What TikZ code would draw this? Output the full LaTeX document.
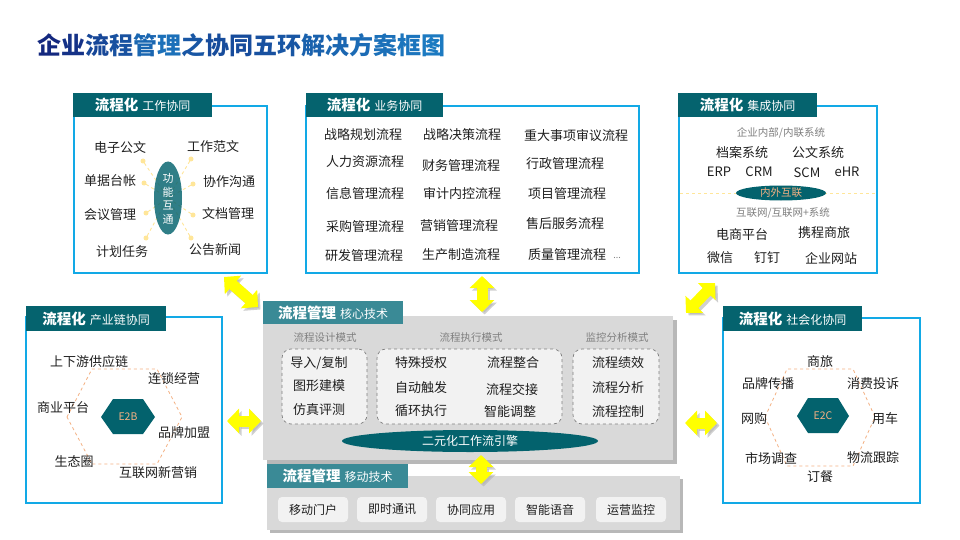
\documentclass[tikz,border=0pt]{standalone}
\usepackage{fontspec}
\setmainfont{Noto Sans CJK SC}
\usetikzlibrary{arrows.meta,shapes.geometric,calc}
\definecolor{hdrc}{HTML}{05636E}
\definecolor{hdrl}{HTML}{3A8A96}
\definecolor{ellc}{HTML}{03626D}
\definecolor{bordc}{HTML}{12A9E6}
\definecolor{grayc}{HTML}{D9D9D9}
\definecolor{lightc}{HTML}{F2F2F2}
\definecolor{dotc}{HTML}{FFE699}
\definecolor{hexc}{HTML}{F4B183}
\definecolor{labgray}{HTML}{7F7F7F}
\definecolor{txtc}{HTML}{1F1F1F}
\definecolor{tA}{HTML}{14287F}
\definecolor{tB}{HTML}{1E8FD2}
\definecolor{arrc}{HTML}{FFFF00}
\newcommand\myfs[1]{\fontsize{#1}{#1}\selectfont}
\newcommand\hb[1]{{\bfseries\myfs{14.5}#1}\hspace{4pt}}
\newcommand\hs[1]{{\myfs{12}#1}}
\newcommand\tc[2]{{\color{tB!#1!tA}#2}}
\tikzset{
  every node/.style={inner sep=0pt, outer sep=0pt},
  hdr/.style={fill=hdrc, text=white, minimum height=24pt, anchor=north west},
  hdrlt/.style={fill=hdrl, text=white, minimum height=24pt, anchor=north west},
  boxb/.style={draw=bordc, line width=1.1pt, fill=white},
  item/.style={font=\myfs{13}, text=txtc},
  sitem/.style={font=\myfs{10.5}, text=labgray},
  dot/.style={circle, fill=dotc, minimum size=5pt},
  dline/.style={draw=dotc, dashed, line width=0.9pt},
  hexd/.style={draw=hexc, dashed, line width=0.8pt},
  ell/.style={ellipse, fill=ellc},
  inbox/.style={draw=labgray, dashed, fill=lightc, rounded corners=9pt, line width=0.7pt},
  btn/.style={fill=lightc, rounded corners=4pt, minimum width=70pt, minimum height=25pt, font=\myfs{12}, text=txtc},
  yarr/.style={draw=arrc, line width=11pt, {Triangle[length=12pt,width=24pt]}-{Triangle[length=12pt,width=24pt]}},
  yshadow/.style={draw=black!30, opacity=0.6, line width=11pt, {Triangle[length=12pt,width=24pt]}-{Triangle[length=12pt,width=24pt]}}
}
\begin{document}
\begin{tikzpicture}[x=1pt,y=-1pt]
\useasboundingbox[fill=white] (0,0) rectangle (960,540);

% title
\node[anchor=west, font=\bfseries\myfs{24}] (title) at (37,45)
 {\tc{0}{企}\tc{10}{业}\tc{30}{流}\tc{40}{程}\tc{60}{管}\tc{70}{理}\tc{45}{之}\tc{35}{协}\tc{35}{同}\tc{40}{五}\tc{45}{环}\tc{55}{解}\tc{60}{决}\tc{65}{方}\tc{70}{案}\tc{75}{框}\tc{80}{图}};

% ===== top-left: 工作协同
\node[boxb, minimum width=193pt, minimum height=167pt] (wk) at (170.5,189.5) {};
\node[hdr, minimum width=139pt] (wkh) at (73,93) {\hb{流程化}\hs{工作协同}};
\coordinate (wkcc) at (168,198);
\node[dot] (d1) at (143,161) {};
\node[dot] (d2) at (144,183) {};
\node[dot] (d3) at (146,213) {};
\node[dot] (d4) at (146,238) {};
\node[dot] (d5) at (191,159) {};
\node[dot] (d6) at (193,184) {};
\node[dot] (d7) at (193,215) {};
\node[dot] (d8) at (191,238) {};
\foreach \d in {d1,d2,d3,d4,d5,d6,d7,d8} \draw[dline] (\d) -- (wkcc);
\node[ell, minimum width=28pt, minimum height=73pt, fill opacity=0.82] (wkc) at (wkcc) {};
\node[font={\fontsize{11}{13.5}\selectfont}, text=white, align=center] (wkt) at (168,199) {功\\能\\互\\通};
\node[item] (w1) at (120,148) {电子公文};
\node[item] (w2) at (110,181) {单据台帐};
\node[item] (w3) at (110,215) {会议管理};
\node[item] (w4) at (122,252) {计划任务};
\node[item] (w5) at (213,147) {工作范文};
\node[item] (w6) at (229,182) {协作沟通};
\node[item] (w7) at (228,214) {文档管理};
\node[item] (w8) at (215,250) {公告新闻};

% ===== top-middle: 业务协同
\node[boxb, minimum width=333pt, minimum height=167pt] (bz) at (472.5,189.5) {};
\node[hdr, minimum width=137pt] (bzh) at (306,93) {\hb{流程化}\hs{业务协同}};
\node[item] (b11) at (363,135) {战略规划流程};
\node[item] (b12) at (462,135) {战略决策流程};
\node[item] (b13) at (576,136) {重大事项审议流程};
\node[item] (b21) at (365,162) {人力资源流程};
\node[item] (b22) at (461,166) {财务管理流程};
\node[item] (b23) at (565,164) {行政管理流程};
\node[item] (b31) at (365,194) {信息管理流程};
\node[item] (b32) at (462,194) {审计内控流程};
\node[item] (b33) at (567,194) {项目管理流程};
\node[item] (b41) at (365,227) {采购管理流程};
\node[item] (b42) at (459,226) {营销管理流程};
\node[item] (b43) at (565,224) {售后服务流程};
\node[item] (b51) at (364,256) {研发管理流程};
\node[item] (b52) at (461,255) {生产制造流程};
\node[item] (b53) at (567,255) {质量管理流程};
\node[font=\myfs{9}, text=labgray] (bdots) at (617,258) {...};

% ===== top-right: 集成协同
\node[boxb, minimum width=198pt, minimum height=167pt] (jc) at (778,189.5) {};
\node[hdr, minimum width=139pt] (jch) at (678,93) {\hb{流程化}\hs{集成协同}};
\node[sitem] (j0) at (781,133) {企业内部/内联系统};
\node[item] (j1) at (742,153) {档案系统};
\node[item] (j2) at (818,153) {公文系统};
\node[item] (j3) at (719,172) {ERP};
\node[item] (j4) at (759,172) {CRM};
\node[item] (j5) at (807,173) {SCM};
\node[item] (j6) at (847,172) {eHR};
\coordinate (jl) at (680,193);
\coordinate (jr) at (876,193);
\draw[dline, line width=0.8pt] (jl) -- (jr);
\node[ell, minimum width=90pt, minimum height=15pt, text=hexc, font=\myfs{10.5}] (jce) at (781,193) {内外互联};
\node[sitem] (j7) at (783,213) {互联网/互联网+系统};
\node[item] (j8) at (742,235) {电商平台};
\node[item] (j9) at (824,233) {携程商旅};
\node[item] (j10) at (720,258) {微信};
\node[item] (j11) at (767,258) {钉钉};
\node[item] (j12) at (831,258) {企业网站};

% ===== middle-left: 产业链协同
\node[boxb, minimum width=196pt, minimum height=186pt] (cy) at (124,410) {};
\node[hdr, minimum width=140pt, minimum height=25pt] (cyh) at (26,306) {\hb{流程化}\hs{产业链协同}};
\draw[hexd] (67,417) -- (92,369) -- (157,369) -- (182,417) -- (157,464) -- (92,464) -- cycle;
\fill[ellc] (101,417) -- (113,399) -- (143,399) -- (155,417) -- (143,434) -- (113,434) -- cycle;
\node[font=\myfs{10.5}, text=hexc] (e2b) at (128,417) {E2B};
\node[item] (c1) at (89,362) {上下游供应链};
\node[item] (c2) at (174,379) {连锁经营};
\node[item] (c3) at (63,408) {商业平台};
\node[item] (c4) at (184,433) {品牌加盟};
\node[item] (c5) at (74,462) {生态圈};
\node[item] (c6) at (158,473) {互联网新营销};

% ===== middle-right: 社会化协同
\node[boxb, minimum width=197pt, minimum height=185pt] (sh) at (821.5,410.5) {};
\node[hdr, minimum width=139pt, minimum height=25pt] (shh) at (723,306) {\hb{流程化}\hs{社会化协同}};
\draw[hexd] (765,417) -- (787,369) -- (853,369) -- (875,417) -- (853,466) -- (787,466) -- cycle;
\fill[ellc] (797,416) -- (808,398) -- (838,398) -- (849,416) -- (838,433) -- (808,433) -- cycle;
\node[font=\myfs{10.5}, text=hexc] (e2c) at (823,416) {E2C};
\node[item] (s1) at (820,362) {商旅};
\node[item] (s2) at (768,384) {品牌传播};
\node[item] (s3) at (873,384) {消费投诉};
\node[item] (s4) at (754,419) {网购};
\node[item] (s5) at (885,419) {用车};
\node[item] (s6) at (771,458) {市场调查};
\node[item] (s7) at (873,458) {物流跟踪};
\node[item] (s8) at (820,477) {订餐};

% ===== core: 核心技术
\fill[black!28] (267,320) rectangle (677,464);
\node[fill=grayc, minimum width=410pt, minimum height=144pt] (core) at (468,388) {};
\node[hdrlt, minimum width=140pt, minimum height=23pt] (coreh) at (263,301) {\hb{流程管理}\hs{核心技术}};
\node[sitem] (k1) at (325,338) {流程设计模式};
\node[sitem] (k2) at (471,338) {流程执行模式};
\node[sitem] (k3) at (617,338) {监控分析模式};
\node[inbox, minimum width=85pt, minimum height=75pt] (ib1) at (324.5,386.5) {};
\node[inbox, minimum width=185pt, minimum height=75pt] (ib2) at (469.5,386.5) {};
\node[inbox, minimum width=86pt, minimum height=75pt] (ib3) at (616,386.5) {};
\node[item] (p1) at (319,363) {导入/复制};
\node[item] (p2) at (319,386) {图形建模};
\node[item] (p3) at (319,410) {仿真评测};
\node[item] (q1) at (421,363) {特殊授权};
\node[item] (q2) at (513,363) {流程整合};
\node[item] (q3) at (421,388) {自动触发};
\node[item] (q4) at (512,390) {流程交接};
\node[item] (q5) at (421,411) {循环执行};
\node[item] (q6) at (510,412) {智能调整};
\node[item] (r1) at (618,363) {流程绩效};
\node[item] (r2) at (618,388) {流程分析};
\node[item] (r3) at (618,412) {流程控制};
\node[ell, minimum width=256pt, minimum height=22pt, text=white, font=\myfs{12}] (eng) at (470,441) {二元化工作流引擎};

% ===== mobile: 移动技术
\fill[black!28] (270,479) rectangle (683,533);
\node[fill=grayc, minimum width=413pt, minimum height=54pt] (mob) at (473.5,503) {};
\node[hdrlt, minimum width=141pt, minimum height=24pt] (mobh) at (267,464) {\hb{流程管理}\hs{移动技术}};
\node[btn] (m1) at (313,509.5) {移动门户};
\node[btn] (m2) at (392,509.5) {即时通讯};
\node[btn] (m3) at (471,509.5) {协同应用};
\node[btn] (m4) at (550,509.5) {智能语音};
\node[btn] (m5) at (631,509.5) {运营监控};

% ===== yellow double arrows
\coordinate (a1s) at (224,277); \coordinate (a1e) at (258,307);
\coordinate (a2s) at (482,276); \coordinate (a2e) at (482,312);
\coordinate (a3s) at (715,283); \coordinate (a3e) at (686,313);
\coordinate (a4s) at (227,421); \coordinate (a4e) at (261,421);
\coordinate (a5s) at (685,423); \coordinate (a5e) at (717,423);
\coordinate (a6s) at (481,455); \coordinate (a6e) at (481,484);
\foreach \s/\e in {a1s/a1e,a2s/a2e,a3s/a3e,a4s/a4e,a5s/a5e,a6s/a6e}{
  \draw[yshadow] ($(\s)+(2.5,2.5)$) -- ($(\e)+(2.5,2.5)$);
  \draw[yarr] (\s) -- (\e);
}
\end{tikzpicture}
\end{document}
